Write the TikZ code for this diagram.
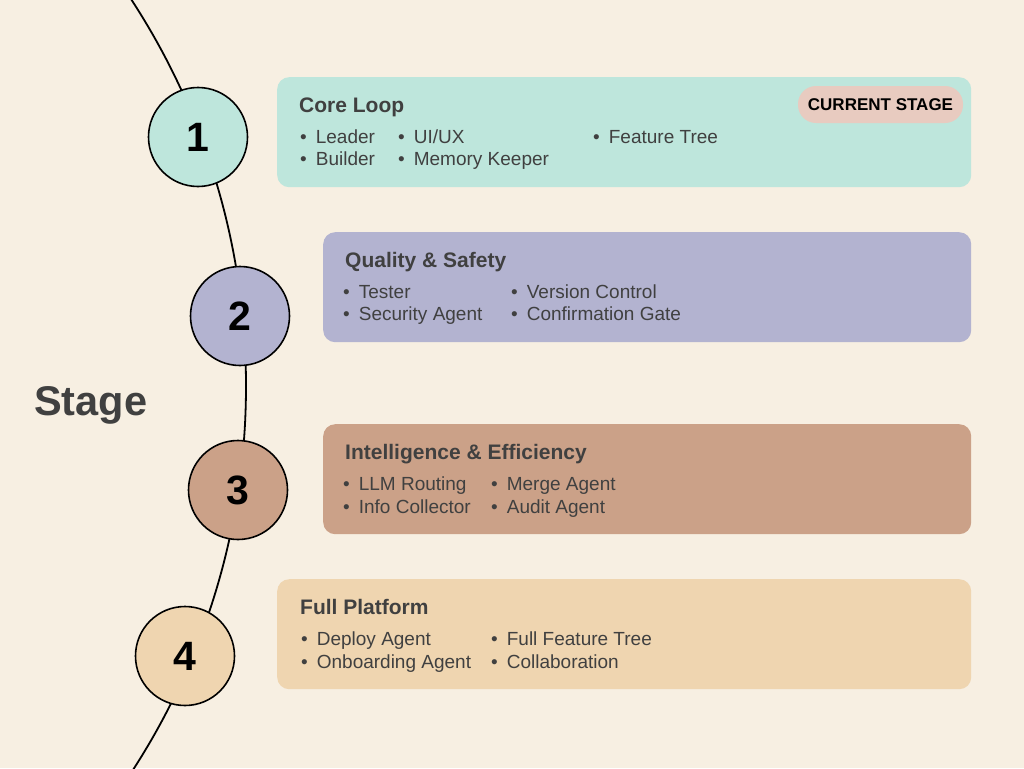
\documentclass[tikz,border=0pt]{standalone}
\usepackage{fontspec}
\setmainfont{Liberation Sans}
\usepackage{tikz}
\usetikzlibrary{positioning, calc}
\usepackage{xcolor}
\definecolor{bgcream}{HTML}{F7EFE2}
\definecolor{inkgray}{HTML}{404040}
\definecolor{tealfill}{HTML}{BEE6DC}
\definecolor{lilacfill}{HTML}{B3B3D0}
\definecolor{clayfill}{HTML}{CBA188}
\definecolor{sandfill}{HTML}{EFD5B0}
\definecolor{badgefill}{HTML}{E8CBC0}
\newcommand{\bul}{\textbullet\hspace{9pt}}

\begin{document}
\begin{tikzpicture}[x=1pt, y=-1pt,
  stagecircle/.style={circle, draw=black, line width=1.6pt, minimum size=99pt, inner sep=0pt,
    font=\fontsize{41}{41}\selectfont\bfseries},
  panel/.style={rounded corners=12pt, inner sep=0pt, minimum height=110pt, anchor=north west},
  paneltitle/.style={anchor=base west, inner sep=0pt, text=inkgray,
    font=\fontsize{21}{21}\selectfont\bfseries},
  item/.style={anchor=base west, inner sep=0pt, text=inkgray,
    font=\fontsize{19}{19}\selectfont}
]
  % Background
  \fill[bgcream] (0,0) rectangle (1024,768);
  \useasboundingbox (0,0) rectangle (1024,768);

  % Timeline arc
  \begin{scope}
    \clip (0,0) rectangle (1024,768);
    \draw[line width=1.8pt] (-462,386) circle (708pt);
  \end{scope}

  % Stage label
  \node[anchor=base west, inner sep=0pt, text=inkgray, font=\fontsize{41.5}{41.5}\selectfont\bfseries]
    (stagelbl) at (34,415) {Stage};

  % Stage circles
  \node[stagecircle, fill=tealfill]  (s1) at (198,137) {1};
  \node[stagecircle, fill=lilacfill] (s2) at (240,316) {2};
  \node[stagecircle, fill=clayfill]  (s3) at (238,490) {3};
  \node[stagecircle, fill=sandfill]  (s4) at (185,656) {4};

  % Panels
  \node[panel, fill=tealfill,  minimum width=694pt] (b1) at (277,77) {};
  \node[panel, fill=lilacfill, minimum width=648pt] (b2) at (323,232) {};
  \node[panel, fill=clayfill,  minimum width=648pt] (b3) at (323,424) {};
  \node[panel, fill=sandfill,  minimum width=694pt] (b4) at (277,579) {};

  % Stage 1
  \node[paneltitle] (t1) at (299,112) {Core Loop};
  \node[item] (b1a) at (300,143) {\bul Leader};
  \node[item] (b1b) at (300,165) {\bul Builder};
  \node[item] (b1c) at (398,143) {\bul UI/UX};
  \node[item] (b1d) at (398,165) {\bul Memory Keeper};
  \node[item] (b1e) at (593,143) {\bul Feature Tree};
  \node[fill=badgefill, rounded corners=18pt, minimum width=165pt, minimum height=37pt,
    inner sep=0pt, font=\fontsize{17}{17}\selectfont\bfseries] (badge) at (880.5,104.5) {CURRENT STAGE};

  % Stage 2
  \node[paneltitle] (t2) at (345,267) {Quality \& Safety};
  \node[item] (b2a) at (343,298) {\bul Tester};
  \node[item] (b2b) at (343,320) {\bul Security Agent};
  \node[item] (b2c) at (511,298) {\bul Version Control};
  \node[item] (b2d) at (511,320) {\bul Confirmation Gate};

  % Stage 3
  \node[paneltitle] (t3) at (345,459) {Intelligence \& Efficiency};
  \node[item] (b3a) at (343,490) {\bul LLM Routing};
  \node[item] (b3b) at (343,513) {\bul Info Collector};
  \node[item] (b3c) at (491,490) {\bul Merge Agent};
  \node[item] (b3d) at (491,513) {\bul Audit Agent};

  % Stage 4
  \node[paneltitle] (t4) at (300,614) {Full Platform};
  \node[item] (b4a) at (301,645) {\bul Deploy Agent};
  \node[item] (b4b) at (301,668) {\bul Onboarding Agent};
  \node[item] (b4c) at (491,645) {\bul Full Feature Tree};
  \node[item] (b4d) at (491,668) {\bul Collaboration};

\end{tikzpicture}
\end{document}
